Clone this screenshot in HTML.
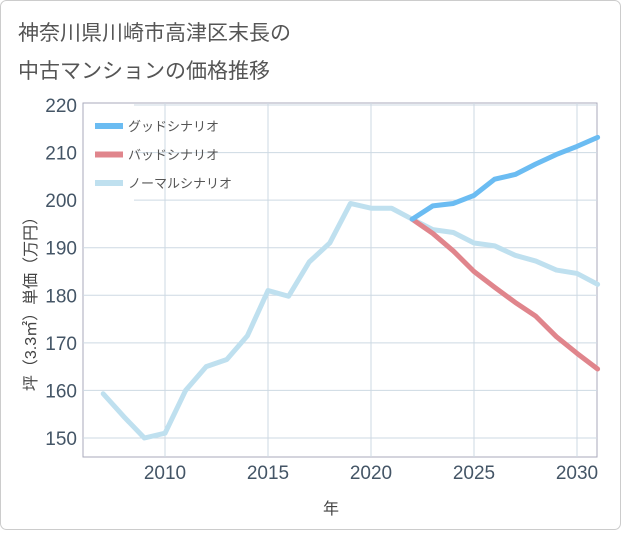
<!DOCTYPE html>
<html><head><meta charset="utf-8"><style>
body{margin:0;background:#fff;}
svg text{font-family:"Liberation Sans","Noto Sans CJK JP",sans-serif;}
</style></head><body>
<svg width="621" height="530" viewBox="0 0 621 530">
<rect x="0.5" y="0.5" width="620" height="529" rx="6" fill="#fff" stroke="#ccc"/>
<text x="18" y="40" font-size="21" fill="#555">神奈川県川崎市高津区末長の</text>
<text x="18" y="78" font-size="21" fill="#555">中古マンションの価格推移</text>
<g id="grid"></g>
<g id="axes"></g>
<g id="series"></g>
<g id="legend"></g>
<text x="331" y="514" font-size="16" fill="#444" text-anchor="middle">年</text>
<text transform="translate(36,300) rotate(-90)" font-size="16" fill="#444" text-anchor="middle">坪（3.3㎡）単価（万円）</text>
</svg>
<script>
const years=[2007,2008,2009,2010,2011,2012,2013,2014,2015,2016,2017,2018,2019,2020,2021,2022,2023,2024,2025,2026,2027,2028,2029,2030,2031];
const normal=[159.3,154.5,150,151,160,165,166.5,171.5,181,179.8,187,191,199.3,198.3,198.3,196,193.8,193.2,191,190.4,188.4,187.2,185.3,184.6,182.3];
const goodYears=[2022,2023,2024,2025,2026,2027,2028,2029,2030,2031];
const good=[196,198.8,199.3,201,204.4,205.4,207.6,209.6,211.3,213.2];
const bad=[196,193,189.3,185,181.7,178.5,175.6,171.3,167.8,164.5];
const yTicks=[150,160,170,180,190,200,210,220];
const xTicks=[2010,2015,2020,2025,2030];
const L=83,R=597,T=103,B=457;
const x=v=>165+(v-2010)*20.6;
const y=v=>438-(v-150)*4.757;
const NS="http://www.w3.org/2000/svg";
function mk(p,t,a){const e=document.createElementNS(NS,t);for(const k in a)e.setAttribute(k,a[k]);p.appendChild(e);return e;}
const grid=document.getElementById('grid'),axes=document.getElementById('axes'),ser=document.getElementById('series'),leg=document.getElementById('legend');
const pa=mk(grid,'rect',{x:L,y:T,width:R-L,height:B-T,fill:'#fff',stroke:'#aab'});


yTicks.forEach(v=>{
 const g=mk(grid,'line',{x1:L,x2:R,y1:y(v),y2:y(v),stroke:'#cdd9e3'});
 
 
 const t=mk(axes,'text',{x:L-6,y:y(v)+7,'font-size':19,fill:'#445566','text-anchor':'end'});
 t.textContent=v;
 
 
});
xTicks.forEach(v=>{
 const g=mk(grid,'line',{x1:x(v),x2:x(v),y1:T,y2:B,stroke:'#cdd9e3'});
 
 
 const t=mk(axes,'text',{x:x(v),y:B+22,'font-size':19,fill:'#445566','text-anchor':'middle'});
 t.textContent=v;
 
 
});
function line(xs,vs,c,n){
 const p=mk(ser,'polyline',{points:xs.map((a,i)=>x(a)+','+y(vs[i])).join(' '),fill:'none',stroke:c,'stroke-width':5,'stroke-linejoin':'round','stroke-linecap':'round'});
 
 
}
line(years,normal,'#bfe0ef','normal-scenario-line');
line(goodYears,bad,'#e0858c','bad-scenario-line');
line(goodYears,good,'#6bbcf2','good-scenario-line');
const lb=mk(leg,'rect',{x:L+1,y:T+1,width:50,height:100,fill:'#fff'});


[['グッドシナリオ','#6bbcf2'],['バッドシナリオ','#e0858c'],['ノーマルシナリオ','#bfe0ef']].forEach((d,i)=>{
 const yy=126+i*28.5;
 const l=mk(leg,'line',{x1:95,x2:123,y1:yy,y2:yy,stroke:d[1],'stroke-width':6});
 
 
 const t=mk(leg,'text',{x:128,y:yy+5,'font-size':13,fill:'#555'});
 t.textContent=d[0];
 
 
});
</script>
</body></html>
